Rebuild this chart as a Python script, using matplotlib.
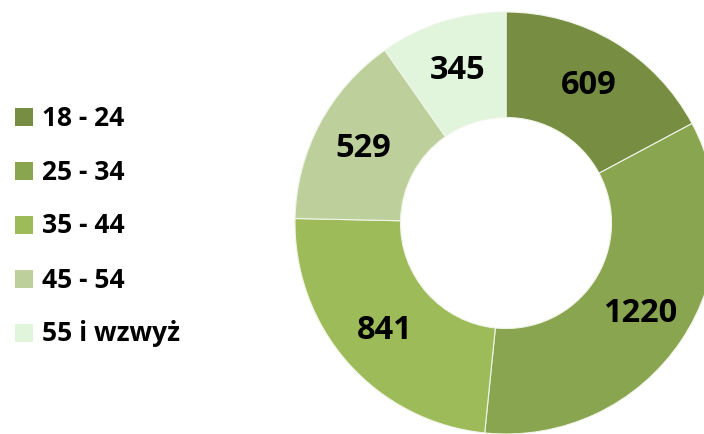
import matplotlib
matplotlib.use("Agg")
import matplotlib.pyplot as plt
from matplotlib.patches import Rectangle

categories = ["18 - 24", "25 - 34", "35 - 44", "45 - 54", "55 i wzwyż"]
values = [609, 1220, 841, 529, 345]
colors = ["#768D42", "#8AA550", "#9DBB59", "#BDD09B", "#E1F4DC"]

W, H = 704, 435
fig = plt.figure(figsize=(W / 100, H / 100), dpi=100)
ax = fig.add_axes([0, 0, 1, 1])

wedges, texts, autotexts = ax.pie(
    values, colors=colors, startangle=90, counterclock=False,
    radius=1.0, wedgeprops=dict(width=0.5, edgecolor="#F0F5E8", linewidth=0.8),
    autopct=lambda p: "", pctdistance=0.765, labels=None)
for t, v in zip(autotexts, values):
    t.set_text(str(v))
    t.set_fontfamily("Open Sans")
    t.set_fontweight("bold")
    t.set_fontsize(23.5)
    t.set_color("black")

cx, cy, R = 506, 224, 211  # pixel center and radius
ax.set_xlim(-cx / R, (W - cx) / R)
ax.set_ylim(-(H - cy) / R, cy / R)
ax.set_aspect("equal")
ax.axis("off")

# legend
y0, dy = 118, 54
for i, (cat, col) in enumerate(zip(categories, colors)):
    yc = y0 + i * dy
    fig.patches.append(Rectangle((15 / W, 1 - (yc + 9) / H), 18 / W, 18 / H,
                                 transform=fig.transFigure, facecolor=col,
                                 edgecolor="none"))
    fig.text(42 / W, 1 - yc / H, cat, fontfamily="Open Sans", fontweight="bold",
             fontsize=19, va="center", ha="left", color="black")

fig.savefig("out.png", dpi=100)
